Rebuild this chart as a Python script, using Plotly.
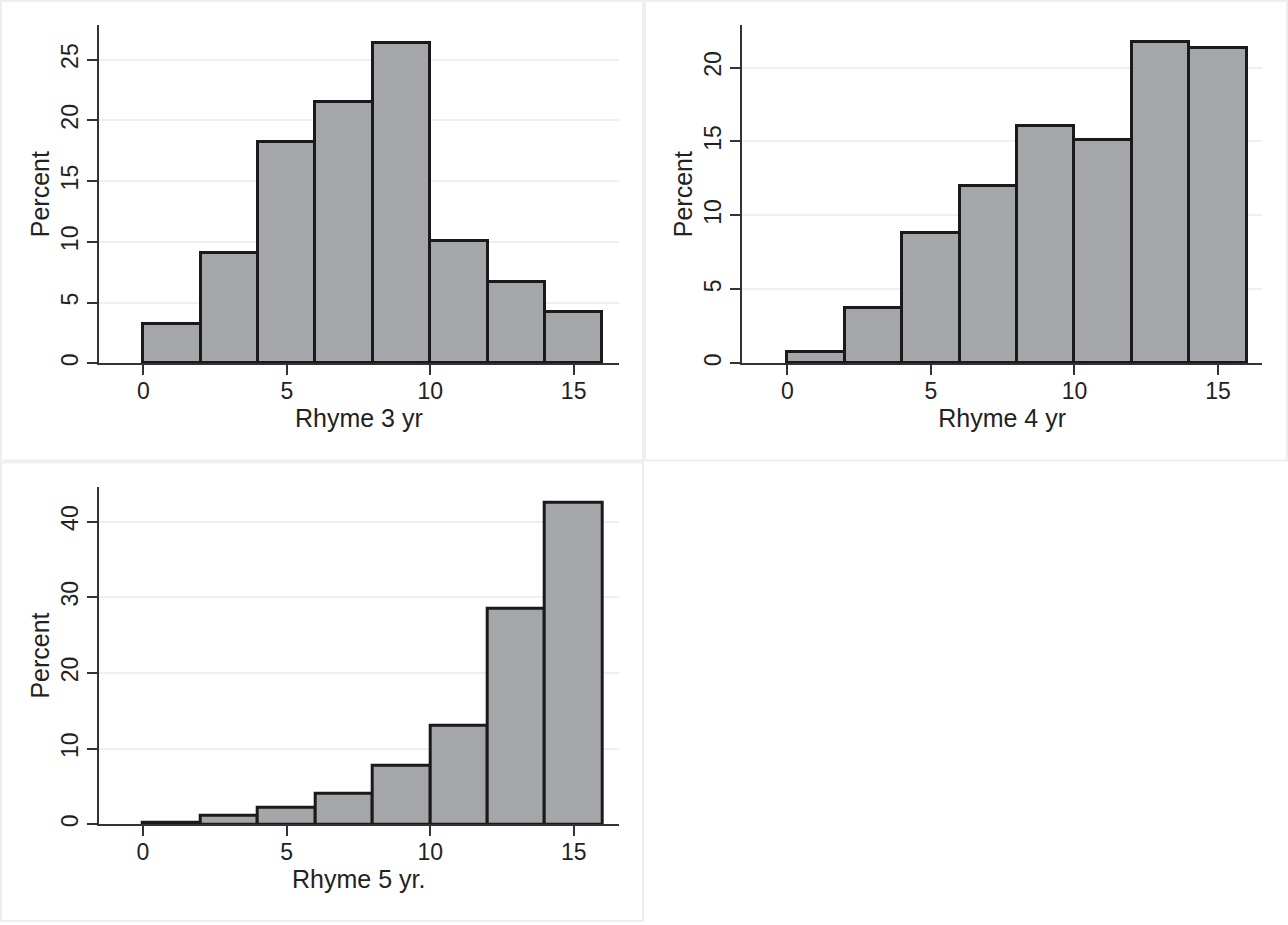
import plotly.graph_objects as go

# ---- data ----
bin_centers = [1, 3, 5, 7, 9, 11, 13, 15]
bin_width = 2
rhyme3_pct = [3.26, 9.06, 18.21, 21.52, 26.39, 10.09, 6.68, 4.22]
rhyme4_pct = [0.77, 3.73, 8.79, 11.98, 16.07, 15.08, 21.70, 21.33]
rhyme5_pct = [0.20, 1.15, 2.24, 4.08, 7.68, 13.08, 28.45, 42.45]

x_ticks = [0, 5, 10, 15]
y_ticks3 = [0, 5, 10, 15, 20, 25]
y_ticks4 = [0, 5, 10, 15, 20]
y_ticks5 = [0, 10, 20, 30, 40]

titles = ["Rhyme 3 yr", "Rhyme 4 yr", "Rhyme 5 yr."]
y_title = "Percent"

W, H = 1288, 925
FONT = "Liberation Sans, Arial, sans-serif"
BAR_FILL = "#a5a6a9"
BAR_LINE = "#1a1a1a"
AXIS_COL = "#333333"
GRID_COL = "#efefef"
TEXT_COL = "#222222"

fig = go.Figure()

series = [rhyme3_pct, rhyme4_pct, rhyme5_pct]
for i, vals in enumerate(series):
    suffix = "" if i == 0 else str(i + 1)
    fig.add_trace(go.Bar(
        x=bin_centers, y=vals, width=bin_width,
        marker=dict(color=BAR_FILL, line=dict(color=BAR_LINE, width=3)),
        xaxis="x" + suffix, yaxis="y" + suffix, showlegend=False,
        hoverinfo="x+y",
    ))

def px_x(p):
    return p / W

def px_y(p):
    return 1 - p / H

panels = [
    # (x_left, x_right, y_top, y_bottom, xrange, yrange, yticks)
    (99, 618.7, 25, 364.5, [-1.545, 16.57], [0, 27.85], y_ticks3),
    (742, 1262.3, 25, 364.5, [-1.578, 16.54], [0, 22.88], y_ticks4),
    (98.7, 618.7, 488.3, 827, [-1.54, 16.56], [0, 44.6], y_ticks5),
]

layout = dict(
    width=W, height=H,
    margin=dict(l=0, r=0, t=0, b=0),
    paper_bgcolor="white", plot_bgcolor="white",
    font=dict(family=FONT, size=23, color=TEXT_COL),
    bargap=0,
)

for i, (xl, xr, yt, yb, xr_, yr_, yt_) in enumerate(panels):
    suffix = "" if i == 0 else str(i + 1)
    layout["xaxis" + suffix] = dict(
        domain=[px_x(xl), px_x(xr)], range=xr_, anchor="y" + suffix,
        tickvals=x_ticks, ticks="outside", ticklen=10, tickwidth=1.5,
        tickcolor=AXIS_COL, showline=True, linecolor=AXIS_COL, linewidth=1.5,
        showgrid=False, zeroline=False,
        tickfont=dict(size=23, color=TEXT_COL),
        ticklabelstandoff=-4,
        title=dict(text=titles[i], font=dict(size=25, color=TEXT_COL), standoff=0),
        fixedrange=True,
    )
    layout["yaxis" + suffix] = dict(
        domain=[px_y(yb), px_y(yt)], range=yr_, anchor="x" + suffix,
        tickvals=yt_, ticks="outside", ticklen=10, tickwidth=1.5,
        tickcolor=AXIS_COL, showline=True, linecolor=AXIS_COL, linewidth=1.5,
        showgrid=True, gridcolor=GRID_COL, gridwidth=2, zeroline=False,
        tickangle=-90,
        tickfont=dict(size=23, color=TEXT_COL),
        title=dict(text=y_title, font=dict(size=25, color=TEXT_COL), standoff=0),
        fixedrange=True,
    )

# panel outlines (Stata combined-graph frames)
frames = [(1, 1, 643, 462), (645, 1, 1287, 462), (1, 464, 643, 924)]
shapes = []
for (x0, y0, x1, y1) in frames:
    shapes.append(dict(type="rect", xref="paper", yref="paper",
                       x0=px_x(x0), x1=px_x(x1), y0=px_y(y1), y1=px_y(y0),
                       line=dict(color="#eeeeee", width=2), fillcolor="rgba(0,0,0,0)",
                       layer="below"))
layout["shapes"] = shapes

fig.update_layout(**layout)
fig.write_html(
    "out.html",
    config={"displayModeBar": False},
    post_script="document.body.style.margin='0px';document.body.style.overflow='hidden';",
)
